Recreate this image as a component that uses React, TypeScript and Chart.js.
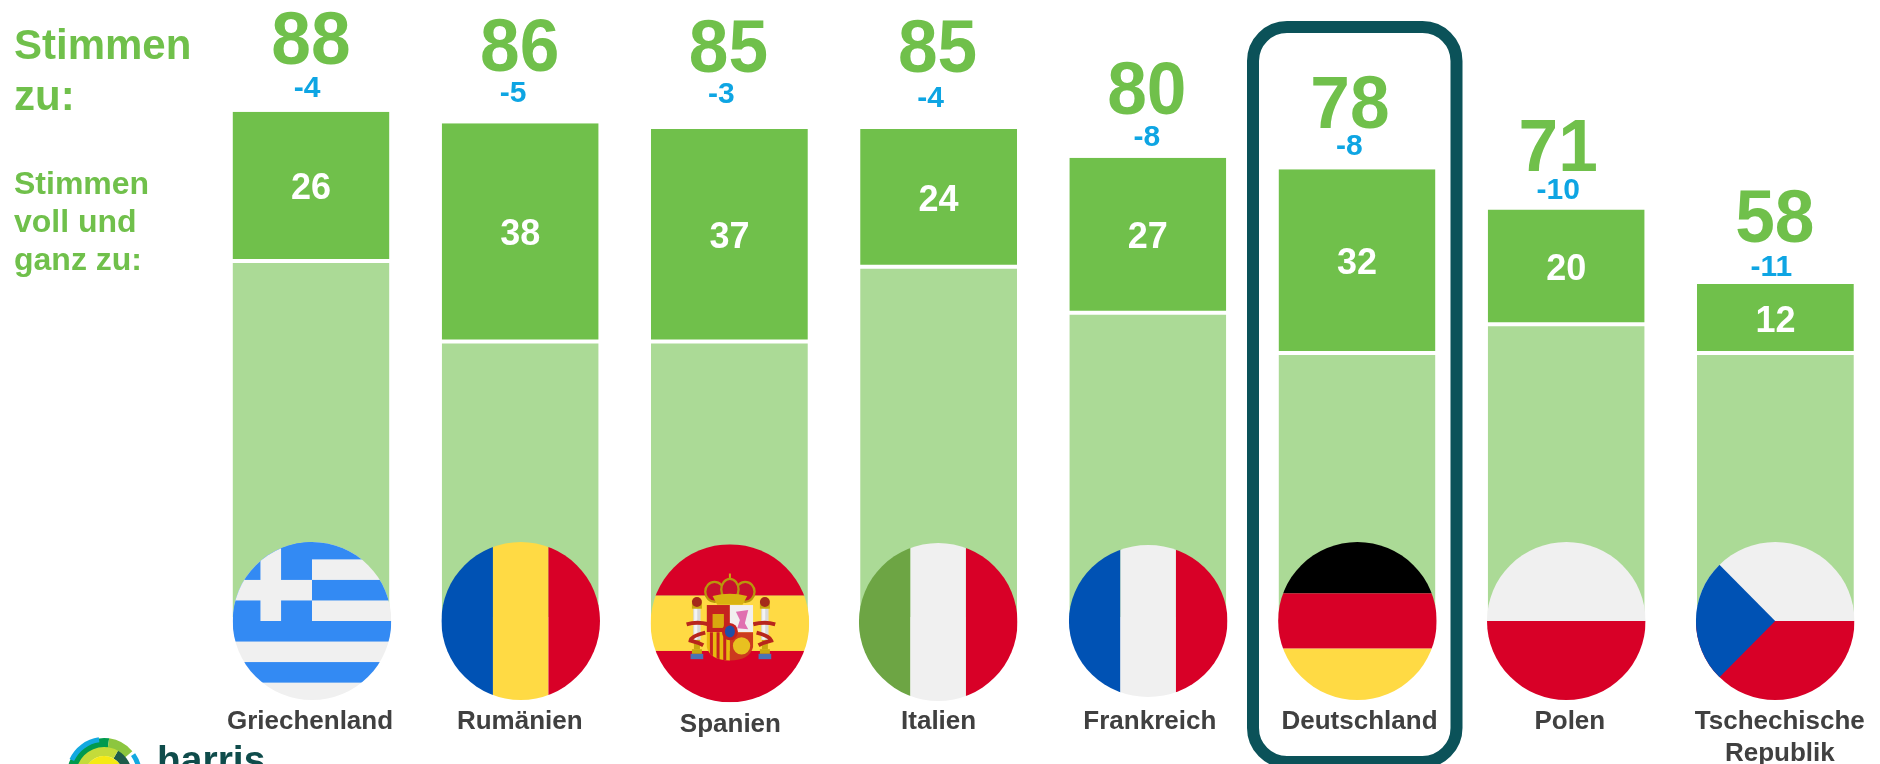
import React, { useEffect, useRef } from "react";
import { Chart, registerables } from "chart.js";

Chart.register(...registerables);

const categories: (string | string[])[] = ["Griechenland", "Rumänien", "Spanien", "Italien", "Frankreich", "Deutschland", "Polen", ["Tschechische", "Republik"]];
const totalAgree = [88, 86, 85, 85, 80, 78, 71, 58];
const fullyAgree = [26, 38, 37, 24, 27, 32, 20, 12];
const partlyAgree = [62, 48, 48, 61, 53, 46, 51, 46];
const changes = ["-4", "-5", "-3", "-4", "-8", "-8", "-10", "-11"];
const flags = ["gr", "ro", "es", "it", "fr", "de", "pl", "cz"];

const totalGap = [48, 52.4, 57.4, 57.4, 44, 41.3, 38.5, 42.4];
const totalDx = [0, -0.5, -1, -1, -1, -7, -8, -0.6];
const changeGap = [14.7, 20.9, 26.1, 22.1, 11.9, 13.8, 10, 8];
const changeDx = [-4, -7, -8, -8, -1, -7.6, -8, -4];
const labelDx = [-1, -0.4, 1, 0, 2, 2.5, 3.6, 4.4];
const labelDy = [0, 0, 3, 0, 0, 0, 0, 0];
const flagDx = [1, 0.5, 0.5, -0.4, 0.4, 0.4, 0.1, -0.2];
const flagY = [621, 621, 623.3, 622, 621, 621, 621, 621];
const flagRy = [79, 79, 79, 79, 76, 79, 79, 79];

const GREEN = "#70C04B";
const LIGHT = "#ABDA96";
const BLUE = "#0EA5E3";
const TEAL = "#0B5259";
const WHITE_F = "#F0F0F0";
const RED = "#D80027";
const YEL = "#FFDA44";
const NAVY = "#0052B4";
const SKY = "#338AF3";
const FONT = '"Liberation Sans", Arial, sans-serif';

function spainArms(c: CanvasRenderingContext2D) {
  const rect = (col: string, x: number, y: number, w: number, h: number) => {
    c.fillStyle = col;
    c.fillRect(x, y, w, h);
  };
  // pillars
  for (const px of [-120, 84]) {
    rect("#D9D9D9", px + 10, -45, 22, 95);
    rect("#F4F4F4", px + 13, -45, 9, 95);
    rect("#C9A80F", px + 6, -60, 30, 16);
    rect("#C9A80F", px + 6, 78, 30, 14);
    rect("#4A73B5", px + 2, 92, 38, 16);
    rect("#C9A80F", px + 12, 50, 18, 28);
    c.fillStyle = "#A52A1A";
    c.beginPath();
    c.arc(px + 21, -64, 15, 0, Math.PI * 2);
    c.fill();
    // ribbons
    c.strokeStyle = "#B8261C";
    c.lineWidth = 12;
    c.beginPath();
    if (px < 0) {
      c.moveTo(px - 10, 3);
      c.quadraticCurveTo(px + 22, -6, px + 56, 3);
      c.moveTo(px + 46, 28);
      c.quadraticCurveTo(px + 4, 38, px + 2, 52);
      c.quadraticCurveTo(px + 26, 58, px + 40, 66);
    } else {
      c.moveTo(px - 14, 3);
      c.quadraticCurveTo(px + 20, -6, px + 52, 3);
      c.moveTo(px - 4, 28);
      c.quadraticCurveTo(px + 36, 38, px + 40, 52);
      c.quadraticCurveTo(px + 16, 58, px + 2, 66);
    }
    c.stroke();
  }
  // crown
  c.fillStyle = "#C9A80F";
  c.fillRect(-3, -150, 6, 22);
  c.fillStyle = "#C8102E";
  c.strokeStyle = "#B8960C";
  c.lineWidth = 7;
  for (const [cx, cy, rx, ry] of [[-46, -95, 28, 30], [46, -95, 28, 30], [0, -102, 26, 32]]) {
    c.beginPath();
    c.ellipse(cx, cy, rx, ry, 0, 0, Math.PI * 2);
    c.fill();
    c.stroke();
  }
  c.fillStyle = "#D9B310";
  c.beginPath();
  c.moveTo(-52, -82);
  c.quadraticCurveTo(0, -96, 52, -82);
  c.lineTo(38, -56);
  c.lineTo(-38, -56);
  c.closePath();
  c.fill();
  // shield
  c.save();
  c.beginPath();
  c.moveTo(-70, -55);
  c.lineTo(70, -55);
  c.lineTo(70, 70);
  c.quadraticCurveTo(60, 112, 0, 112);
  c.quadraticCurveTo(-60, 112, -70, 70);
  c.closePath();
  c.clip();
  rect("#C5221F", -70, -55, 70, 82);
  rect("#F2EFEF", 0, -55, 70, 82);
  rect("#E8B90F", -70, 27, 70, 90);
  for (const sx of [-60, -40, -20]) rect("#C5221F", sx, 27, 9, 90);
  rect("#CC3A1E", 0, 27, 70, 90);
  c.fillStyle = "#D9A80F";
  c.fillRect(-52, -28, 34, 42);
  c.fillStyle = "#E070B0";
  c.beginPath();
  c.moveTo(18, -35);
  c.lineTo(55, -40);
  c.lineTo(45, 0);
  c.lineTo(55, 18);
  c.lineTo(22, 15);
  c.lineTo(30, -10);
  c.closePath();
  c.fill();
  c.fillStyle = "#E8C020";
  c.beginPath();
  c.arc(35, 68, 26, 0, Math.PI * 2);
  c.fill();
  c.restore();
  c.fillStyle = "#C5221F";
  c.beginPath();
  c.ellipse(0, 25, 24, 26, 0, 0, Math.PI * 2);
  c.fill();
  c.fillStyle = "#1F4FA8";
  c.beginPath();
  c.ellipse(0, 25, 15, 18, 0, 0, Math.PI * 2);
  c.fill();
}

function drawFlag(c: CanvasRenderingContext2D, code: string, cx: number, cy: number, rx: number, ry: number) {
  c.save();
  c.beginPath();
  c.ellipse(cx, cy, rx, ry, 0, 0, Math.PI * 2);
  c.clip();
  c.translate(cx, cy);
  c.scale(rx, ry);
  const rect = (col: string, x: number, y: number, w: number, h: number) => {
    c.fillStyle = col;
    c.fillRect(x, y, w, h);
  };
  const vert = (a: string, b: string, d: string) => {
    rect(a, -1, -1, 0.65, 2);
    rect(b, -0.35, -1, 0.7, 2);
    rect(d, 0.35, -1, 0.65, 2);
  };
  const horiz = (a: string, b: string, d: string) => {
    rect(a, -1, -1, 2, 0.65);
    rect(b, -1, -0.35, 2, 0.7);
    rect(d, -1, 0.35, 2, 0.65);
  };
  if (code === "gr") {
    rect(WHITE_F, -1, -1, 2, 2);
    rect(SKY, -1, -1, 2, 0.22);
    rect(SKY, 0, -0.52, 1, 0.26);
    rect(SKY, -1, 0, 2, 0.26);
    rect(SKY, -1, 0.52, 2, 0.26);
    rect(SKY, -1, -1, 1, 1);
    rect(WHITE_F, -0.65, -1, 0.26, 1);
    rect(WHITE_F, -1, -0.52, 1, 0.26);
  } else if (code === "ro") vert(NAVY, YEL, RED);
  else if (code === "it") vert("#6DA544", WHITE_F, RED);
  else if (code === "fr") vert(NAVY, WHITE_F, RED);
  else if (code === "de") horiz("#000000", RED, YEL);
  else if (code === "es") {
    horiz(RED, YEL, RED);
    c.save();
    c.scale(1 / 238, 1 / 238);
    spainArms(c);
    c.restore();
  } else if (code === "pl") {
    rect(WHITE_F, -1, -1, 2, 1);
    rect(RED, -1, 0, 2, 1);
  } else if (code === "cz") {
    rect(WHITE_F, -1, -1, 2, 1);
    rect(RED, -1, 0, 2, 1);
    c.fillStyle = NAVY;
    c.beginPath();
    c.moveTo(0, 0);
    c.lineTo(-0.7, -0.71);
    c.lineTo(-1, -1);
    c.lineTo(-1, 1);
    c.lineTo(-0.7, 0.71);
    c.closePath();
    c.fill();
  }
  c.restore();
}

function drawLogo(c: CanvasRenderingContext2D) {
  const cx = 104, cy = 775;
  const arc = (r0: number, r1: number, a0: number, a1: number, col: string) => {
    c.fillStyle = col;
    c.beginPath();
    c.arc(cx, cy, r1, (a0 * Math.PI) / 180, (a1 * Math.PI) / 180);
    c.arc(cx, cy, r0, (a1 * Math.PI) / 180, (a0 * Math.PI) / 180, true);
    c.closePath();
    c.fill();
  };
  arc(27, 37, 180, 278, "#009A4E");
  arc(33, 38, 205, 262, "#13A9E0");
  arc(27, 37, 278, 320, "#8CC63F");
  arc(19, 28, 300, 360, "#1F5C4A");
  arc(33, 38, 325, 360, "#13A9E0");
  arc(19, 28, 180, 300, "#C4DB3A");
  arc(10, 19, 180, 360, "#F5EA14");
  c.font = `bold 39px ${FONT}`;
  c.fillStyle = "#0F4C4B";
  c.textAlign = "left";
  c.textBaseline = "alphabetic";
  c.fillText("harris", 157, 773);
}

function stretched(c: CanvasRenderingContext2D, s: string, x: number, y: number, font: string, sx: number) {
  c.save();
  c.translate(x, y);
  c.scale(sx, 1);
  c.font = font;
  c.fillText(s, 0, 0);
  c.restore();
}

const overlay = {
  id: "overlay",
  afterDatasetsDraw(chart: any) {
    const c: CanvasRenderingContext2D = chart.ctx;
    const light = chart.getDatasetMeta(0).data;
    const dark = chart.getDatasetMeta(1).data;
    c.save();

    // highlight frame
    c.strokeStyle = TEAL;
    c.lineWidth = 12;
    c.beginPath();
    c.roundRect(1253, 27, 203.5, 735, 34);
    c.stroke();

    // flags
    flags.forEach((f, i) => drawFlag(c, f, light[i].x + flagDx[i], flagY[i], 79.3, flagRy[i]));

    c.textBaseline = "alphabetic";
    c.textAlign = "center";
    totalAgree.forEach((v, i) => {
      const b = dark[i];
      c.fillStyle = GREEN;
      stretched(c, String(v), b.x + totalDx[i], b.y - totalGap[i], `bold 75px ${FONT}`, 0.95);
      c.fillStyle = BLUE;
      c.font = `bold 30px ${FONT}`;
      c.fillText(changes[i], b.x + changeDx[i], b.y - changeGap[i]);
      c.fillStyle = "#FFFFFF";
      c.font = `bold 36px ${FONT}`;
      c.fillText(String(fullyAgree[i]), b.x, (b.y + b.base) / 2 + 13);
    });

    c.textAlign = "left";
    c.fillStyle = GREEN;
    c.font = `bold 42px ${FONT}`;
    c.fillText("Stimmen", 14, 59);
    c.fillText("zu:", 14, 110);
    c.font = `bold 32px ${FONT}`;
    c.fillText("Stimmen", 14, 194);
    c.fillText("voll und", 14, 232);
    c.fillText("ganz zu:", 14, 270);

    drawLogo(c);
    c.restore();
  },
};

export default function App() {
  const ref = useRef<HTMLCanvasElement>(null);
  useEffect(() => {
    const chart = new Chart(ref.current as HTMLCanvasElement, {
      type: "bar",
      data: {
        labels: categories as any,
        datasets: [
          {
            label: "Stimmen eher zu",
            data: partlyAgree,
            backgroundColor: LIGHT,
            borderColor: "#FFFFFF",
            borderWidth: { top: 2, left: 0, right: 0, bottom: 0 },
            borderSkipped: false,
          },
          {
            label: "Stimmen voll und ganz zu",
            data: fullyAgree,
            backgroundColor: GREEN,
            borderColor: "#FFFFFF",
            borderWidth: { top: 0, left: 0, right: 0, bottom: 2 },
            borderSkipped: false,
          },
        ],
      } as any,
      plugins: [overlay],
      options: {
        responsive: false,
        animation: false,
        layout: { padding: { left: 206.4, right: 0, top: 0, bottom: 0 } },
        plugins: { legend: { display: false }, tooltip: { enabled: false } },
        datasets: { bar: { barPercentage: 0.75, categoryPercentage: 1, inflateAmount: 0 } },
        scales: {
          x: {
            stacked: true,
            border: { display: false },
            grid: { display: false, drawTicks: false },
            ticks: {
              autoSkip: false,
              maxRotation: 0,
              minRotation: 0,
              padding: 88.5,
              color: "#404040",
              font: { family: '"Liberation Sans", Arial, sans-serif', size: 26, weight: "bold", lineHeight: 1.25 },
            },
            afterFit: (s: any) => {
              s.height = 147;
              s.paddingLeft = 0;
              s.paddingRight = 0;
            },
            afterUpdate: (s: any) => {
              if (s.__nudged) return;
              s.__nudged = true;
              const orig = s._computeLabelItems.bind(s);
              s._computeLabelItems = (area: any) =>
                orig(area).map((it: any, i: number) => ({
                  ...it,
                  options: {
                    ...it.options,
                    translation: [it.options.translation[0] + labelDx[i], it.options.translation[1] + labelDy[i]],
                  },
                }));
            },
          },
          y: { stacked: true, display: false, min: 0, max: 107.49 },
        },
      } as any,
    });
    return () => chart.destroy();
  }, []);
  return (
    <div style={{ position: "fixed", left: 0, top: 0, width: 1880, height: 764, overflow: "hidden", background: "#fff" }}>
      <canvas ref={ref} width={1880} height={764} style={{ display: "block" }} />
    </div>
  );
}
